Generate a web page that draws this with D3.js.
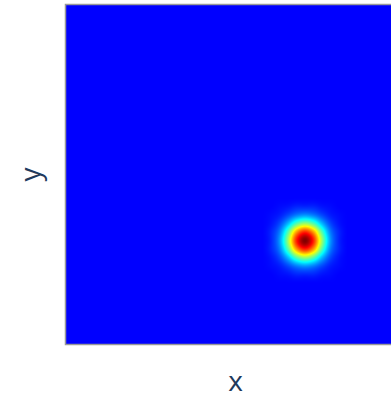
<!DOCTYPE html>
<html>
<head>
<meta charset="utf-8">
<script src="https://cdn.jsdelivr.net/npm/d3@7"></script>
<style>
  body { margin: 0; background: #fff; }
  svg { display: block; }
</style>
</head>
<body>
<div id="chart"></div>
<script>
// axis ranges of the heatmap (data units)
const xRange = [0, 10];
const yRange = [0, 10];

// grid of the only non-zero patch, rest of the field is 0
const gridX = [6.05, 6.3, 6.55, 6.8, 7.05, 7.3, 7.55, 7.8, 8.05];
const gridY = [2.05, 2.3, 2.55, 2.8, 3.05, 3.3, 3.55, 3.8, 4.05];
const zRows = [
  [0.00, 0.01, 0.02, 0.04, 0.04, 0.04, 0.02, 0.01, 0.00],
  [0.01, 0.03, 0.08, 0.14, 0.17, 0.14, 0.08, 0.03, 0.01],
  [0.02, 0.08, 0.21, 0.38, 0.46, 0.38, 0.21, 0.08, 0.02],
  [0.04, 0.14, 0.38, 0.68, 0.82, 0.68, 0.38, 0.14, 0.04],
  [0.04, 0.17, 0.46, 0.82, 1.00, 0.82, 0.46, 0.17, 0.04],
  [0.04, 0.14, 0.38, 0.68, 0.82, 0.68, 0.38, 0.14, 0.04],
  [0.02, 0.08, 0.21, 0.38, 0.46, 0.38, 0.21, 0.08, 0.02],
  [0.01, 0.03, 0.08, 0.14, 0.17, 0.14, 0.08, 0.03, 0.01],
  [0.00, 0.01, 0.02, 0.04, 0.04, 0.04, 0.02, 0.01, 0.00]
];

// jet colour scale
const jetStops = [-0.143, 0, 0.286, 0.571, 0.857, 1];
const jetColors = ["#000083", "#0000ff", "#00ffff", "#ffff00", "#ff0000", "#800000"];

const W = 391, H = 398;
const margin = {left: 66, top: 5};
const plotW = 339, plotH = 339;

const svg = d3.select("#chart").append("svg")
    .attr("width", W)
    .attr("height", H);

const x = d3.scaleLinear().domain(xRange).range([margin.left, margin.left + plotW]);
const y = d3.scaleLinear().domain(yRange).range([margin.top + plotH, margin.top]);
const color = d3.scaleLinear().domain(jetStops).range(jetColors).clamp(true);

// catmull-rom sampling of the patch
function cubic(p0, p1, p2, p3, t) {
    return p1 + 0.5 * t * (p2 - p0 + t * (2*p0 - 5*p1 + 4*p2 - p3 + t * (3*(p1 - p2) + p3 - p0)));
}
function zAt(r, c) {
    if (r < 0 || c < 0 || r >= zRows.length || c >= zRows[0].length) return 0;
    return zRows[r][c];
}
function sample(dx, dy) {
    const stepX = gridX[1] - gridX[0], stepY = gridY[1] - gridY[0];
    const fc = (dx - gridX[0]) / stepX, fr = (dy - gridY[0]) / stepY;
    if (fc < -2 || fr < -2 || fc > gridX.length + 1 || fr > gridY.length + 1) return 0;
    const c = Math.floor(fc), r = Math.floor(fr);
    const tc = fc - c, tr = fr - r;
    const rows = [];
    for (let k = -1; k <= 2; k++) {
        rows.push(cubic(zAt(r+k, c-1), zAt(r+k, c), zAt(r+k, c+1), zAt(r+k, c+2), tc));
    }
    return Math.max(0, cubic(rows[0], rows[1], rows[2], rows[3], tr));
}

// paint heatmap into a canvas, then hand it to the svg as an image
const canvas = document.createElement("canvas");
canvas.width = plotW;
canvas.height = plotH;
const ctx = canvas.getContext("2d");
const img = ctx.createImageData(plotW, plotH);
for (let j = 0; j < plotH; j++) {
    for (let i = 0; i < plotW; i++) {
        const v = sample(x.invert(margin.left + i + 0.5), y.invert(margin.top + j + 0.5));
        const c = d3.rgb(color(v));
        const k = (j * plotW + i) * 4;
        img.data[k] = c.r;
        img.data[k+1] = c.g;
        img.data[k+2] = c.b;
        img.data[k+3] = 255;
    }
}
ctx.putImageData(img, 0, 0);

svg.append("image")
    .attr("x", margin.left)
    .attr("y", margin.top)
    .attr("width", plotW)
    .attr("height", plotH)
    .attr("href", canvas.toDataURL());

svg.append("rect")
    .attr("x", margin.left - 0.5)
    .attr("y", margin.top - 0.5)
    .attr("width", plotW + 1)
    .attr("height", plotH + 1)
    .attr("fill", "none")
    .attr("stroke", "#999")
    .attr("stroke-width", 1.5);

svg.append("text")
    .attr("x", margin.left + plotW / 2)
    .attr("y", 391)
    .attr("text-anchor", "middle")
    .style("font-family", "'Open Sans', sans-serif")
    .style("font-size", "28px")
    .attr("fill", "#1f3a5c")
    .text("x");

svg.append("text")
    .attr("transform", `translate(40,${margin.top + plotH / 2}) rotate(-90)`)
    .attr("text-anchor", "middle")
    .style("font-family", "'Open Sans', sans-serif")
    .style("font-size", "28px")
    .attr("fill", "#1f3a5c")
    .text("y");
</script>
</body>
</html>
